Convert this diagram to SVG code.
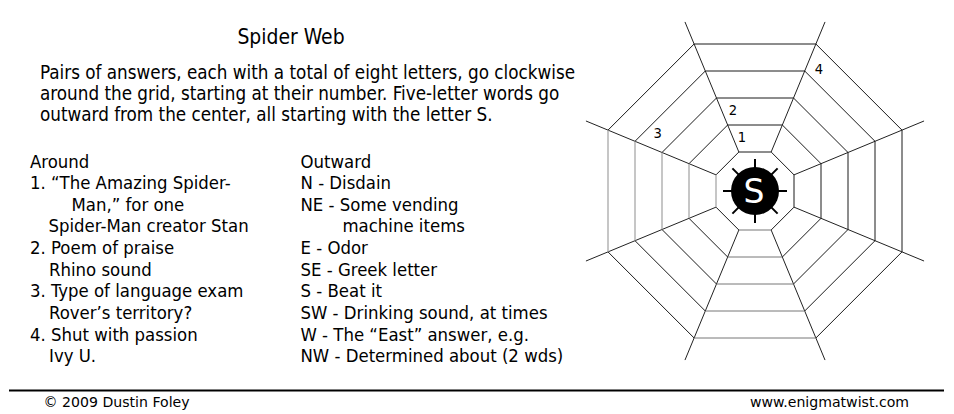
<svg xmlns="http://www.w3.org/2000/svg" width="954" height="414" viewBox="0 0 954 414">
<style>
.t{font-family:'DejaVu Sans Condensed','DejaVu Sans',sans-serif;font-stretch:condensed;fill:#000}
.b{font-size:18.4px}
.i{font-size:18.7px}
.f{font-family:'DejaVu Sans',Verdana,sans-serif;font-size:14.1px;fill:#000}
.n{font-family:'DejaVu Sans Condensed','DejaVu Sans',sans-serif;font-stretch:condensed;font-size:14.6px;fill:#000;text-anchor:middle}
.dk{fill:none;stroke:#1a1a1a;stroke-width:1}
.gb{fill:none;stroke:#777;stroke-width:1}
.gl{fill:none;stroke:#a0a0a0;stroke-width:1.2}
.sp{fill:none;stroke:#222;stroke-width:1}
.leg{stroke:#000;stroke-width:2}
</style>
<rect width="954" height="414" fill="#fff"/>
<g id="title"><text class="t" x="291" y="44" font-size="20.9" text-anchor="middle">Spider Web</text></g>
<g id="intro" class="t i">
<text x="40" y="78.5">Pairs of answers, each with a total of eight letters, go clockwise</text>
<text x="40" y="99.5">around the grid, starting at their number. Five-letter words go</text>
<text x="40" y="120.5">outward from the center, all starting with the letter S.</text>
</g>
<g id="around" class="t b">
<text x="30" y="167.5">Around</text>
<text x="30" y="189">1. “The Amazing Spider-</text>
<text x="71.5" y="210.7">Man,” for one</text>
<text x="48.5" y="232.3">Spider-Man creator Stan</text>
<text x="30" y="254">2. Poem of praise</text>
<text x="49" y="275.7">Rhino sound</text>
<text x="30" y="297.3">3. Type of language exam</text>
<text x="49" y="319">Rover’s territory?</text>
<text x="30" y="340.7">4. Shut with passion</text>
<text x="49" y="362.3">Ivy U.</text>
</g>
<g id="outward" class="t b">
<text x="300.5" y="167.5">Outward</text>
<text x="300.5" y="189">N - Disdain</text>
<text x="300.5" y="210.7">NE - Some vending</text>
<text x="342.5" y="232.3">machine items</text>
<text x="300.5" y="254">E - Odor</text>
<text x="300.5" y="275.7">SE - Greek letter</text>
<text x="300.5" y="297.3">S - Beat it</text>
<text x="300.5" y="319">SW - Drinking sound, at times</text>
<text x="300.5" y="340.7">W - The “East” answer, e.g.</text>
<text x="300.5" y="362.3">NW - Determined about (2 wds)</text>
</g>
<g id="web">
<g id="spokes" class="sp">
<line x1="738.85" y1="152" x2="684.98" y2="21.95"/>
<line x1="771.15" y1="152" x2="825.02" y2="21.95"/>
<line x1="794" y1="174.85" x2="924.05" y2="120.98"/>
<line x1="794" y1="207.15" x2="924.05" y2="261.02"/>
<line x1="771.15" y1="230" x2="825.02" y2="360.05"/>
<line x1="738.85" y1="230" x2="684.98" y2="360.05"/>
<line x1="716" y1="207.15" x2="585.95" y2="261.02"/>
<line x1="716" y1="174.85" x2="585.95" y2="120.98"/>
</g>
<g id="rings">
<polyline class="dk" points="716,174.85 738.85,152 771.15,152 794,174.85 794,207.15 771.15,230"/>
<line class="gb" x1="771.15" y1="230" x2="738.85" y2="230"/>
<line class="dk" x1="738.85" y1="230" x2="716" y2="207.15"/>
<line class="gl" x1="716" y1="207.15" x2="716" y2="174.85"/>
<polyline class="dk" points="689,163.66 727.66,125 782.34,125 821,163.66 821,218.34 782.34,257"/>
<line class="gb" x1="782.34" y1="257" x2="727.66" y2="257"/>
<line class="dk" x1="727.66" y1="257" x2="689" y2="218.34"/>
<line class="gl" x1="689" y1="218.34" x2="689" y2="163.66"/>
<polyline class="dk" points="662,152.48 716.48,98 793.52,98 848,152.48 848,229.52 793.52,284"/>
<line class="gb" x1="793.52" y1="284" x2="716.48" y2="284"/>
<line class="dk" x1="716.48" y1="284" x2="662" y2="229.52"/>
<line class="gl" x1="662" y1="229.52" x2="662" y2="152.48"/>
<polyline class="dk" points="635,141.29 705.29,71 804.71,71 875,141.29 875,240.71 804.71,311"/>
<line class="gb" x1="804.71" y1="311" x2="705.29" y2="311"/>
<line class="dk" x1="705.29" y1="311" x2="635" y2="240.71"/>
<line class="gl" x1="635" y1="240.71" x2="635" y2="141.29"/>
<polyline class="dk" points="608,130.11 694.11,44 815.89,44 902,130.11 902,251.89 815.89,338"/>
<line class="gb" x1="815.89" y1="338" x2="694.11" y2="338"/>
<line class="dk" x1="694.11" y1="338" x2="608" y2="251.89"/>
<line class="gl" x1="608" y1="251.89" x2="608" y2="130.11"/>
</g>
<g id="numbers">
<text class="n" x="742" y="141.5">1</text>
<text class="n" x="733" y="115">2</text>
<text class="n" x="657.7" y="138.3">3</text>
<text class="n" x="819" y="74">4</text>
</g>
<g id="spider">
<g class="leg">
<line x1="755" y1="159" x2="755" y2="169"/>
<line x1="755" y1="213" x2="755" y2="223"/>
<line x1="723" y1="191" x2="733" y2="191"/>
<line x1="777" y1="191" x2="787" y2="191"/>
<line x1="732.4" y1="168.4" x2="739.4" y2="175.4"/>
<line x1="777.6" y1="168.4" x2="770.6" y2="175.4"/>
<line x1="732.4" y1="213.6" x2="739.4" y2="206.6"/>
<line x1="777.6" y1="213.6" x2="770.6" y2="206.6"/>
</g>
<circle cx="755" cy="191" r="24" fill="#000"/>
<text x="754" y="202.7" font-family="'DejaVu Sans',sans-serif" font-size="33" fill="#fff" text-anchor="middle">S</text>
</g>
</g>
<g id="footer">
<line x1="9" y1="390.5" x2="944" y2="390.5" stroke="#000" stroke-width="2"/>
<text class="f" x="43.5" y="406.5">© 2009 Dustin Foley</text>
<text class="f" x="909" y="406.5" text-anchor="end">www.enigmatwist.com</text>
</g>
</svg>
